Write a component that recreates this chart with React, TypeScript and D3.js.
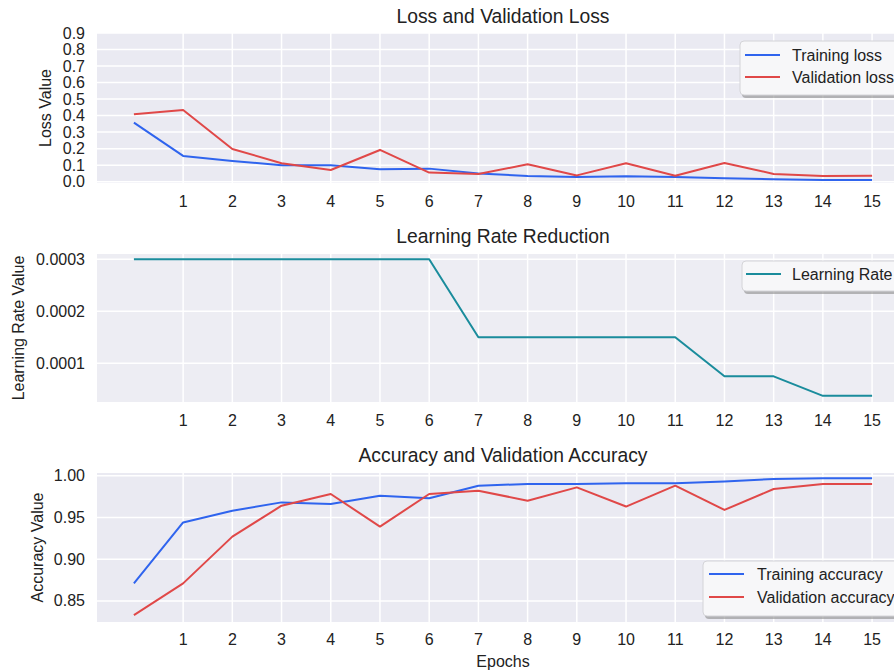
import React from "react";
import * as d3 from "d3";

const epochs = [0, 1, 2, 3, 4, 5, 6, 7, 8, 9, 10, 11, 12, 13, 14, 15];
const epochTicks = [1, 2, 3, 4, 5, 6, 7, 8, 9, 10, 11, 12, 13, 14, 15];

const trainLoss = [0.357, 0.156, 0.125, 0.1, 0.1, 0.075, 0.079, 0.05, 0.035, 0.028, 0.033, 0.028, 0.02, 0.015, 0.01, 0.01];
const valLoss = [0.408, 0.434, 0.198, 0.112, 0.071, 0.192, 0.055, 0.047, 0.105, 0.038, 0.111, 0.036, 0.113, 0.047, 0.035, 0.036];

const learningRate = [0.0003, 0.0003, 0.0003, 0.0003, 0.0003, 0.0003, 0.0003, 0.00015, 0.00015, 0.00015, 0.00015, 0.00015, 0.000075, 0.000075, 0.0000375, 0.0000375];

const trainAcc = [0.871, 0.944, 0.958, 0.968, 0.966, 0.976, 0.973, 0.988, 0.99, 0.99, 0.991, 0.991, 0.993, 0.996, 0.997, 0.997];
const valAcc = [0.833, 0.871, 0.927, 0.964, 0.978, 0.939, 0.978, 0.982, 0.97, 0.986, 0.963, 0.988, 0.959, 0.984, 0.99, 0.99];

const lossTicks = [0.0, 0.1, 0.2, 0.3, 0.4, 0.5, 0.6, 0.7, 0.8, 0.9];
const lrTicks = [0.0001, 0.0002, 0.0003];
const accTicks = [0.85, 0.9, 0.95, 1.0];

const BLUE = "#2f64ee";
const RED = "#e04848";
const TEAL = "#1a8c9c";
const FONT = "'Liberation Sans', Arial, sans-serif";
const TXT = "#222";

const x = d3.scaleLinear().domain([-0.75, 15.75]).range([97, 909]);

interface Series {
  label: string;
  values: number[];
  color: string;
}

interface PanelProps {
  title: string;
  titleY: number;
  top: number;
  bottom: number;
  domain: [number, number];
  yTicks: number[];
  fmt: (v: number) => string;
  yLabel: string;
  yLabelX: number;
  xTickY: number;
  series: Series[];
  legend: { x: number; y: number; h: number; handleX: number; textX: number; rows: number[] };
  bg: string;
}

const Panel: React.FC<PanelProps> = (p) => {
  const y = d3.scaleLinear().domain(p.domain).range([p.bottom, p.top]);
  const line = (vals: number[]) =>
    d3
      .line<number>()
      .x((_, i) => x(epochs[i]))
      .y((d) => y(d))(vals) || "";
  const [x0, x1] = x.range();
  const lg = p.legend;
  return (
    <g>
      <rect x={x0} y={p.top} width={x1 - x0} height={p.bottom - p.top} fill={p.bg} />
      {p.yTicks.map((t) => (
        <line key={"h" + t} x1={x0} x2={x1} y1={y(t)} y2={y(t)} stroke="#fff" strokeWidth={1.5} />
      ))}
      {epochTicks.map((t) => (
        <line key={"v" + t} x1={x(t)} x2={x(t)} y1={p.top} y2={p.bottom} stroke="#fff" strokeWidth={1.5} />
      ))}
      {p.series.map((s) => (
        <path key={s.label} d={line(s.values)} fill="none" stroke={s.color} strokeWidth={2} strokeLinejoin="round" />
      ))}
      {p.yTicks.map((t) => (
        <text key={"yt" + t} x={85} y={y(t)} dy="0.35em" textAnchor="end" fontSize={16} fill={TXT}>
          {p.fmt(t)}
        </text>
      ))}
      {epochTicks.map((t) => (
        <text key={"xt" + t} x={x(t)} y={p.xTickY} textAnchor="middle" fontSize={16} fill={TXT}>
          {t}
        </text>
      ))}
      <text x={(x0 + x1) / 2} y={p.titleY} textAnchor="middle" fontSize={19.3} fill={TXT}>
        {p.title}
      </text>
      <text
        transform={`translate(${p.yLabelX},${(p.top + p.bottom) / 2}) rotate(-90)`}
        textAnchor="middle"
        dy="0.35em"
        fontSize={16}
        fill={TXT}
      >
        {p.yLabel}
      </text>
      <rect x={lg.x + 2} y={lg.y + 3} width={260} height={lg.h} rx={4} fill="#8a8a8a" opacity={0.6} />
      <rect x={lg.x} y={lg.y} width={260} height={lg.h} rx={4} fill="#f7f7f9" stroke="#d4d4d8" strokeWidth={1} />
      {p.series.map((s, i) => (
        <g key={"lg" + s.label}>
          <line x1={lg.handleX} x2={lg.handleX + 35} y1={lg.rows[i]} y2={lg.rows[i]} stroke={s.color} strokeWidth={2} />
          <text x={lg.textX} y={lg.rows[i]} dy="0.35em" fontSize={16} fill={TXT}>
            {s.label}
          </text>
        </g>
      ))}
    </g>
  );
};

export default function App() {
  return (
    <svg
      width={894}
      height={672}
      style={{ position: "absolute", left: 0, top: 0, background: "#fff", fontFamily: FONT }}
    >
      <Panel
        title="Loss and Validation Loss"
        titleY={23}
        top={33}
        bottom={183}
        domain={[-0.008, 0.9]}
        yTicks={lossTicks}
        fmt={d3.format(".1f")}
        yLabel="Loss Value"
        yLabelX={45}
        xTickY={207}
        series={[
          { label: "Training loss", values: trainLoss, color: BLUE },
          { label: "Validation loss", values: valLoss, color: RED },
        ]}
        legend={{ x: 740, y: 41, h: 54, handleX: 745, textX: 792, rows: [55, 77] }}
        bg="#eaeaf2"
      />
      <Panel
        title="Learning Rate Reduction"
        titleY={243}
        top={254}
        bottom={402}
        domain={[0.0000256, 0.0003102]}
        yTicks={lrTicks}
        fmt={d3.format(".4f")}
        yLabel="Learning Rate Value"
        yLabelX={18}
        xTickY={426}
        series={[{ label: "Learning Rate", values: learningRate, color: TEAL }]}
        legend={{ x: 742, y: 261, h: 30, handleX: 746, textX: 792, rows: [274] }}
        bg="#ededf3"
      />
      <Panel
        title="Accuracy and Validation Accuracy"
        titleY={462}
        top={473}
        bottom={622}
        domain={[0.8247, 1.0032]}
        yTicks={accTicks}
        fmt={d3.format(".2f")}
        yLabel="Accuracy Value"
        yLabelX={37}
        xTickY={645}
        series={[
          { label: "Training accuracy", values: trainAcc, color: BLUE },
          { label: "Validation accuracy", values: valAcc, color: RED },
        ]}
        legend={{ x: 703, y: 561, h: 55, handleX: 709, textX: 757, rows: [574, 597] }}
        bg="#eaeaf2"
      />
      <text x={503} y={667} textAnchor="middle" fontSize={16} fill={TXT}>
        Epochs
      </text>
    </svg>
  );
}
